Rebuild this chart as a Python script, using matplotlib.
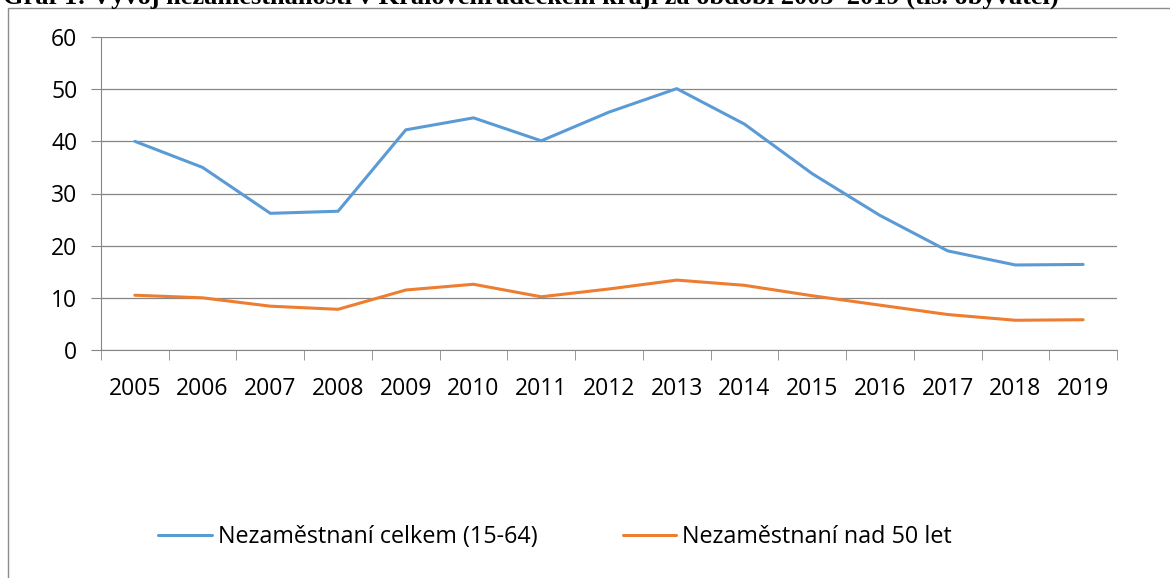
import matplotlib
matplotlib.use("Agg")
import matplotlib.pyplot as plt
from matplotlib.patches import Rectangle

# data
years = ["2005", "2006", "2007", "2008", "2009", "2010", "2011", "2012",
         "2013", "2014", "2015", "2016", "2017", "2018", "2019"]
celkem = [40.0, 35.0, 26.2, 26.6, 42.2, 44.5, 40.1, 45.6, 50.1, 43.3,
          33.8, 25.8, 19.0, 16.3, 16.4]
nad50 = [10.5, 10.0, 8.4, 7.8, 11.5, 12.6, 10.2, 11.7, 13.4, 12.4,
         10.4, 8.6, 6.8, 5.7, 5.8]
label_celkem = "Nezaměstnaní celkem (15-64)"
label_nad50 = "Nezaměstnaní nad 50 let"
title = "Graf 1: Vývoj nezaměstnanosti v Královéhradeckém kraji za období 2005–2019 (tis. obyvatel)"

W, H = 1170, 578
fig = plt.figure(figsize=(W / 100, H / 100), dpi=100)
plt.rcParams["font.family"] = ["Open Sans", "DejaVu Sans"]

# chart frame (Excel chart area), right and bottom edges run off the image
fig.patches.append(Rectangle((8 / W, -0.05), 1.2, 1 - 8 / H + 0.05,
                             transform=fig.transFigure, fill=False,
                             edgecolor="#8c8c8c", linewidth=1.0))

# title, mostly cut off at the top of the picture (as in the source)
fig.text(3 / W, 1 - 4 / H, title, fontsize=19, fontweight="bold",
         family="Liberation Serif", va="baseline", ha="left")

ax = fig.add_axes([101 / W, 1 - 350 / H, (1117 - 101) / W, (350 - 37) / H])
x = range(len(years))
ax.plot(x, celkem, color="#5B9BD5", linewidth=2.2, label=label_celkem,
        solid_capstyle="round")
ax.plot(x, nad50, color="#ED7D31", linewidth=2.2, label=label_nad50,
        solid_capstyle="round")

ax.set_xlim(-0.5, len(years) - 0.5)
ax.set_ylim(0, 60)
ax.set_yticks(range(0, 61, 10))
ax.set_xticks(list(x))
ax.set_xticklabels(years)
ax.set_xticks([i - 0.5 for i in range(len(years) + 1)], minor=True)
ax.tick_params(axis="x", which="major", length=0, pad=19.5, labelsize=16.5)
ax.tick_params(axis="x", which="minor", length=7, color="#868686", direction="out")
ax.tick_params(axis="y", length=7, color="#868686", labelsize=16.5, pad=10)

ax.grid(axis="y", color="#868686", linewidth=0.9)
ax.set_axisbelow(True)
for side in ["top", "right"]:
    ax.spines[side].set_visible(False)
ax.spines["left"].set_color("#868686")
ax.spines["bottom"].set_color("#868686")

leg = fig.legend(loc="center", bbox_to_anchor=(555 / W, 1 - 537 / H), ncol=2,
                 frameon=False, fontsize=16.8, handlelength=2.3,
                 handletextpad=0.26, columnspacing=3.65)

fig.savefig("out.png", dpi=100)
